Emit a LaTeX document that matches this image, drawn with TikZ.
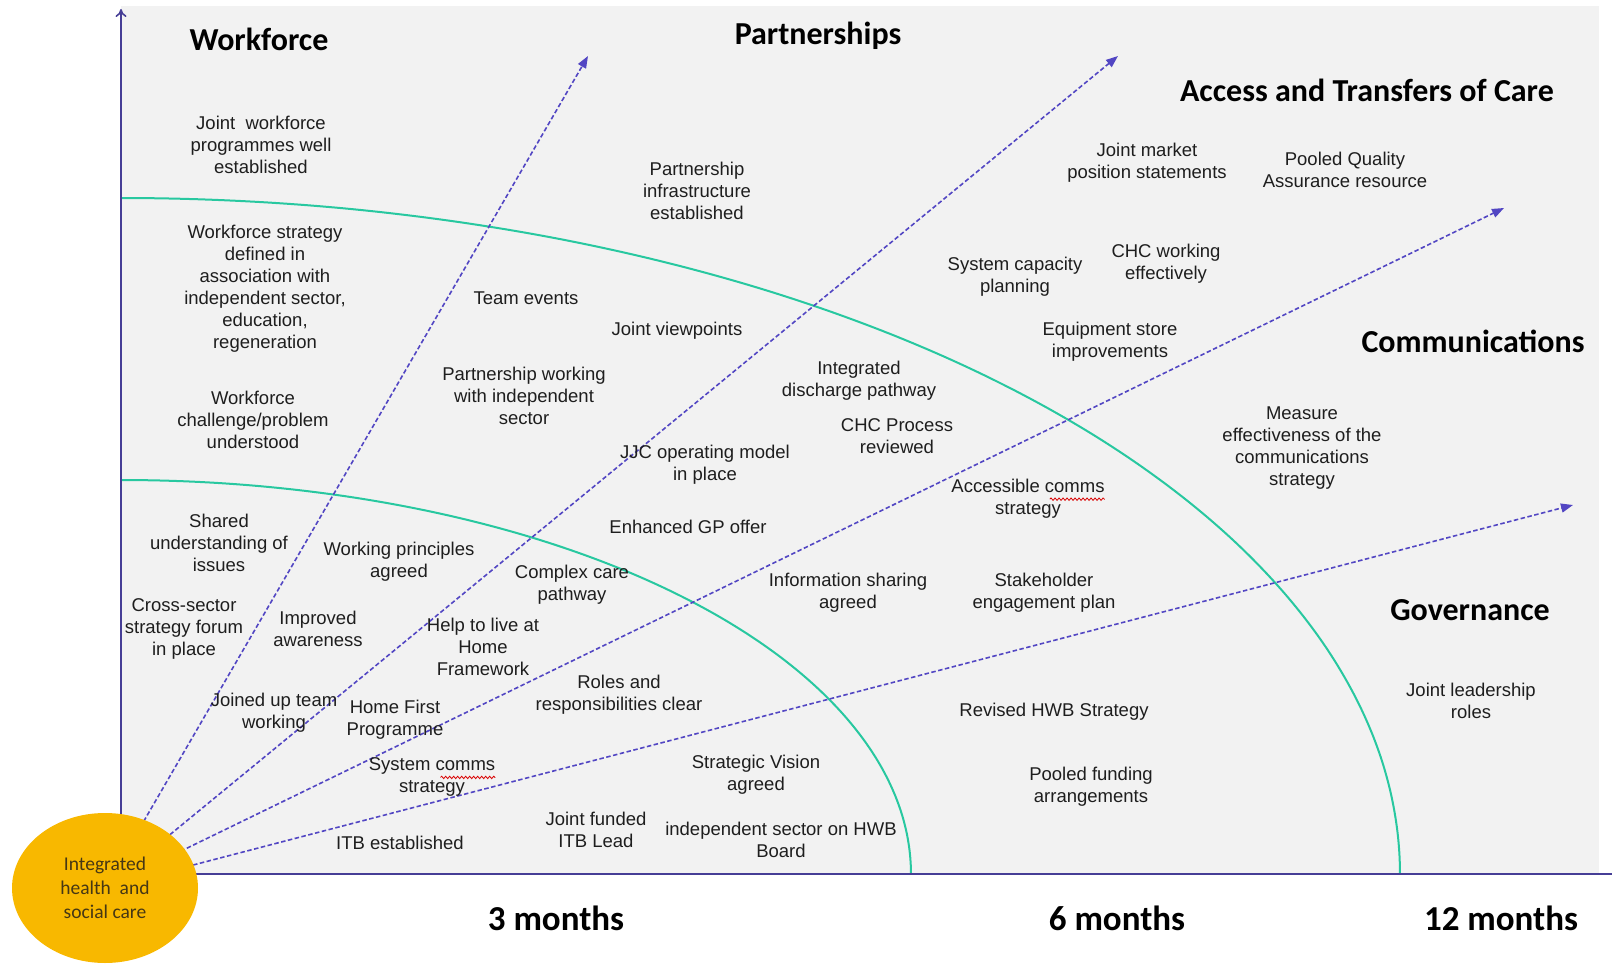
\documentclass[tikz,border=0pt]{standalone}
\usepackage{fontspec}
\setmainfont{Liberation Sans}
\newfontfamily\headfont{Carlito}
\usetikzlibrary{arrows.meta,shapes.geometric,decorations.pathmorphing}
\definecolor{panel}{RGB}{242,242,242}
\definecolor{axiscol}{RGB}{70,62,150}
\definecolor{dashcol}{RGB}{82,70,195}
\definecolor{arccol}{RGB}{40,200,160}
\definecolor{hubcol}{RGB}{248,184,0}
\definecolor{hubtxt}{RGB}{70,55,20}
\definecolor{txtcol}{RGB}{30,30,30}
\begin{document}
\begin{tikzpicture}[x=1pt,y=-1pt,
  item/.style={align=center,inner sep=0pt,text=txtcol,font=\fontsize{18.5}{22}\selectfont},
  heading/.style={inner sep=0pt,text=black,font=\headfont\bfseries\fontsize{32}{36}\selectfont},
  period/.style={inner sep=0pt,text=black,font=\headfont\bfseries\fontsize{35}{40}\selectfont},
  axisline/.style={draw=axiscol,line width=1.6pt},
  arcline/.style={draw=arccol,line width=2pt},
  dasharrow/.style={draw=dashcol,line width=1.6pt,dash pattern=on 4.5pt off 2.5pt,
     -{Triangle[length=12pt,width=9pt]}},
  hubstyle/.style={ellipse,fill=hubcol,minimum width=186pt,minimum height=150pt,inner sep=0pt,
     align=center,text=hubtxt,font=\headfont\fontsize{19.5}{24}\selectfont},
  squig/.style={draw=red!85!black,line width=0.8pt,decorate,
     decoration={snake,amplitude=1.2pt,segment length=4pt}}
]
\useasboundingbox (0,0) rectangle (1612,965);
% background panel
\fill[panel] (121,6) rectangle (1599,874);
% time arcs
\draw[arcline] plot[domain=0:90,samples=80,smooth] ({121+790*cos(\x)},{874-394*sin(\x)});
\draw[arcline] plot[domain=0:90,samples=100,smooth] ({121+1279*cos(\x)},{874-676*sin(\x)});
% axes
\coordinate (O) at (121,874);
\coordinate (ytop) at (121,9);
\coordinate (xend) at (1622,874);
\draw[axisline,-{To[length=8pt,width=11pt]}] (O) -- (ytop);
\draw[axisline,-{To[length=8pt,width=11pt]}] (O) -- (xend);
% arrow end points
\coordinate (e1) at (588,56);
\coordinate (e2) at (1118,56);
\coordinate (e3) at (1504,208);
\coordinate (e4) at (1573,505);
\coordinate (hubc) at (105,888);
\draw[dasharrow] (hubc) -- (e1);
\draw[dasharrow] (hubc) -- (e2);
\draw[dasharrow] (hubc) -- (e3);
\draw[dasharrow] (hubc) -- (e4);
% hub
\node[hubstyle] (hub) at (hubc) {Integrated\\health\ \ and\\social care};
% headings
\node[heading] (hWork) at (259,39) {Workforce};
\node[heading] (hPart) at (818,36) {Partnerships};
\node[heading] (hAccess) at (1367,90) {Access and Transfers of Care};
\node[heading] (hComm) at (1473,341) {Communications};
\node[heading] (hGov) at (1470,610) {Governance};
% periods
\node[period] (m3) at (556,918) {3 months};
\node[period] (m6) at (1117,918) {6 months};
\node[period] (m12) at (1501,918) {12 months};
% items
\node[item] (t1) at (261,145) {Joint\ \ workforce\\programmes well\\established};
\node[item] (t2) at (265,289) {Workforce strategy\\defined in\\association with\\independent sector,\\education,\\regeneration};
\node[item] (t3) at (253,420) {Workforce\\challenge/problem\\understood};
\node[item] (t4) at (526,298) {Team events};
\node[item] (t5) at (524,396) {Partnership working\\with independent\\sector};
\node[item] (t6) at (697,191) {Partnership\\infrastructure\\established};
\node[item] (t7) at (677,331) {Joint viewpoints};
\node[item] (t8) at (859,381) {Integrated\\discharge pathway};
\node[item] (t9) at (897,436) {CHC Process\\reviewed};
\node[item] (t10) at (705,465) {JJC operating model\\in place};
\node[item] (t11) at (688,527) {Enhanced GP offer};
\node[item] (t12) at (572,585) {Complex care\\pathway};
\node[item] (t13) at (483,647) {Help to live at\\Home\\Framework};
\node[item] (t14) at (619,695) {Roles and\\responsibilities clear};
\node[item] (t15) at (399,562) {Working principles\\agreed};
\node[item] (t16) at (219,543) {Shared\\understanding of\\issues};
\node[item] (t17) at (184,629) {Cross-sector\\strategy forum\\in place};
\node[item] (t18) at (318,629) {Improved\\awareness};
\node[item] (t19) at (274,713) {Joined up team\\working};
\node[item] (t20) at (395,720) {Home First\\Programme};
\node[item] (t21) at (432,777) {System comms\\strategy};
\node[item] (t22) at (400,843) {ITB established};
\node[item] (t23) at (596,830) {Joint funded\\ITB Lead};
\node[item] (t24) at (756,775) {Strategic Vision\\agreed};
\node[item] (t25) at (781,840) {independent sector on HWB\\Board};
\node[item] (t26) at (848,593) {Information sharing\\agreed};
\node[item] (t27) at (1044,593) {Stakeholder\\engagement plan};
\node[item] (t28) at (1028,499) {Accessible comms\\strategy};
\node[item] (t29) at (1054,712) {Revised HWB Strategy};
\node[item] (t30) at (1091,787) {Pooled funding\\arrangements};
\node[item] (t31) at (1015,277) {System capacity\\planning};
\node[item] (t32) at (1166,264) {CHC working\\effectively};
\node[item] (t33) at (1110,342) {Equipment store\\improvements};
\node[item] (t34) at (1147,163) {Joint market\\position statements};
\node[item] (t35) at (1345,170) {Pooled Quality\\Assurance resource};
\node[item] (t36) at (1302,448) {Measure\\effectiveness of the\\communications\\strategy};
\node[item] (t37) at (1471,701) {Joint leadership\\roles};
% spell-check squiggles under "comms"
\draw[squig] ([shift={(-55,20)}]t21.north east) -- ([shift={(0,20)}]t21.north east);
\draw[squig] ([shift={(-55,20)}]t28.north east) -- ([shift={(0,20)}]t28.north east);
\end{tikzpicture}
\end{document}
